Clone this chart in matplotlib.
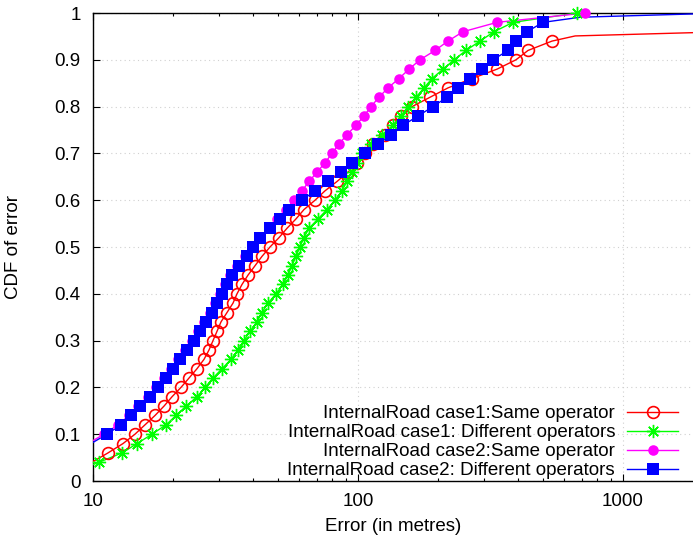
import matplotlib
matplotlib.use("Agg")
import matplotlib.pyplot as plt
from matplotlib.lines import Line2D
from matplotlib.ticker import LogLocator, FixedLocator, NullFormatter

# ---------------- data ----------------
red_x = [9.9, 11.39, 12.98, 14.40, 15.71, 17.14, 18.53, 19.87, 21.48, 23.03, 24.69, 26.24,
         27.40, 28.37, 29.38, 30.41, 32.04, 33.75, 34.95, 36.50, 38.46, 40.87, 43.42, 46.55,
         50.34, 53.96, 58.34, 62.54, 68.84, 75.07, 83.33, 91.68, 99.1, 106.3, 113.9, 126.5,
         135.5, 145.3, 159.9, 187.0, 218.6, 269.3, 334.6, 394.6, 438.1, 539.7, 660, 1840]
red_y = [0.04, 0.06, 0.08, 0.10, 0.12, 0.14, 0.16, 0.18, 0.20, 0.22, 0.24, 0.26,
         0.28, 0.30, 0.32, 0.34, 0.36, 0.38, 0.40, 0.42, 0.44, 0.46, 0.48, 0.50,
         0.52, 0.54, 0.56, 0.58, 0.60, 0.62, 0.64, 0.66, 0.68, 0.70, 0.72, 0.74,
         0.76, 0.78, 0.80, 0.82, 0.84, 0.86, 0.88, 0.90, 0.92, 0.94, 0.951, 0.958]

green_x = [8.55, 10.53, 12.87, 14.66, 16.70, 18.86, 20.57, 22.44, 24.69, 26.47, 28.37, 30.68,
           33.18, 35.26, 37.14, 39.13, 41.58, 43.42, 45.75, 49.05, 52.12, 54.43, 56.36, 58.34,
           60.40, 62.54, 65.33, 70.66, 76.38, 81.89, 87.0, 90.88, 94.93, 99.1, 103.5, 111.9,
           123.2, 135.5, 145.3, 154.4, 165.5, 177.5, 190.2, 209.4, 230.3, 255.6, 288.7, 326.1,
           384.6, 670.7]
green_y = [0.02, 0.04, 0.06, 0.08, 0.10, 0.12, 0.14, 0.16, 0.18, 0.20, 0.22, 0.24,
           0.26, 0.28, 0.30, 0.32, 0.34, 0.36, 0.38, 0.40, 0.42, 0.44, 0.46, 0.48,
           0.50, 0.52, 0.54, 0.56, 0.58, 0.60, 0.62, 0.64, 0.66, 0.68, 0.70, 0.72,
           0.74, 0.76, 0.78, 0.80, 0.82, 0.84, 0.86, 0.88, 0.90, 0.92, 0.94, 0.96,
           0.98, 1.00]

mag_x = [9.57, 11.00, 12.43, 13.67, 14.79, 16.13, 17.29, 18.53, 19.70, 20.93, 22.25, 23.63,
         24.90, 26.24, 27.64, 28.87, 30.15, 31.48, 32.89, 34.95, 37.47, 39.81, 42.68, 46.15,
         49.48, 53.49, 57.34, 61.46, 65.33, 70.05, 75.07, 79.78, 84.78, 90.88, 98.3, 105.3,
         111.9, 120.0, 129.8, 142.8, 155.8, 171.4, 195.3, 218.6, 249.0, 334.6, 719.0]
mag_y = [0.08, 0.10, 0.12, 0.14, 0.16, 0.18, 0.20, 0.22, 0.24, 0.26, 0.28, 0.30,
         0.32, 0.34, 0.36, 0.38, 0.40, 0.42, 0.44, 0.46, 0.48, 0.50, 0.52, 0.54,
         0.56, 0.58, 0.60, 0.62, 0.64, 0.66, 0.68, 0.70, 0.72, 0.74, 0.76, 0.78,
         0.80, 0.82, 0.84, 0.86, 0.88, 0.90, 0.92, 0.94, 0.96, 0.98, 1.00]

blue_x = [9.83, 11.29, 12.76, 13.91, 15.04, 16.41, 17.59, 18.86, 20.04, 21.30, 22.63, 24.05,
          25.34, 26.70, 28.13, 29.38, 30.68, 32.04, 33.46, 35.56, 38.13, 40.17, 42.68, 46.55,
          50.78, 54.90, 61.46, 68.84, 77.04, 86.26, 94.93, 106.3, 119.0, 133.2, 147.8, 168.4,
          191.9, 216.7, 238.4, 264.6, 293.8, 323.2, 368.1, 394.6, 434.2, 499.0, 690, 1840]
blue_y = [0.08, 0.10, 0.12, 0.14, 0.16, 0.18, 0.20, 0.22, 0.24, 0.26, 0.28, 0.30,
          0.32, 0.34, 0.36, 0.38, 0.40, 0.42, 0.44, 0.46, 0.48, 0.50, 0.52, 0.54,
          0.56, 0.58, 0.60, 0.62, 0.64, 0.66, 0.68, 0.70, 0.72, 0.74, 0.76, 0.78,
          0.80, 0.82, 0.84, 0.86, 0.88, 0.90, 0.92, 0.94, 0.96, 0.98, 0.991, 0.998]

labels = ["InternalRoad case1:Same operator",
          "InternalRoad case1: Different operators",
          "InternalRoad case2:Same operator",
          "InternalRoad case2: Different operators"]

y_ticks = [0, 0.1, 0.2, 0.3, 0.4, 0.5, 0.6, 0.7, 0.8, 0.9, 1]
y_ticklabels = ["0", "0.1", "0.2", "0.3", "0.4", "0.5", "0.6", "0.7", "0.8", "0.9", "1"]
x_ticks = [10, 100, 1000]
x_ticklabels = ["10", "100", "1000"]

XMIN, XMAX = 10, 1837

# ---------------- style ----------------
plt.rcParams['font.family'] = ['Liberation Sans', 'DejaVu Sans']
FS = 13.5

fig = plt.figure(figsize=(6.93, 5.45), dpi=100)
ax = fig.add_axes([93 / 693, 64 / 545, 600 / 693, 468 / 545])

series = [
    (red_x, red_y, '#ff0000', dict(marker='o', markerfacecolor='none', markeredgecolor='#ff0000',
                                   markersize=8.5, markeredgewidth=1.2)),
    (green_x, green_y, '#00ff00', dict(marker=(8, 2, 0), markeredgecolor='#00ff00',
                                       markersize=9.5, markeredgewidth=1.0)),
    (mag_x, mag_y, '#ff00ff', dict(marker='o', markerfacecolor='#ff00ff', markeredgecolor='#ff00ff',
                                   markersize=7.6, markeredgewidth=0)),
    (blue_x, blue_y, '#0000ff', dict(marker='s', markerfacecolor='#0000ff', markeredgecolor='#0000ff',
                                     markersize=8.0, markeredgewidth=0)),
]
# number of leading points drawn with markers (the rest form the line tail only)
marker_counts = [46, 50, 47, 46]

handles = []
for (xs, ys, col, mk), n in zip(series, marker_counts):
    ax.plot(xs, ys, color=col, lw=1.0, zorder=3)
    mx = [x for x, y in zip(xs[:n], ys[:n]) if x >= XMIN]
    my = [y for x, y in zip(xs[:n], ys[:n]) if x >= XMIN]
    ax.plot(mx, my, linestyle='none', clip_on=False, zorder=4, **mk)
    handles.append(Line2D([], [], color=col, lw=1.0, **mk))

ax.set_xscale('log')
ax.set_xlim(XMIN, XMAX)
ax.set_ylim(0, 1)

ax.xaxis.set_major_locator(FixedLocator(x_ticks))
ax.set_xticklabels(x_ticklabels)
ax.xaxis.set_minor_locator(LogLocator(base=10, subs=range(2, 10)))
ax.xaxis.set_minor_formatter(NullFormatter())
ax.set_yticks(y_ticks)
ax.set_yticklabels(y_ticklabels)

ax.tick_params(which='both', direction='in', top=True, right=False, labelsize=FS,
               width=0.8, colors='black')
ax.tick_params(which='major', length=5)
ax.tick_params(which='minor', length=2.5)
ax.tick_params(axis='x', pad=9)
ax.tick_params(axis='y', pad=9)

ax.grid(True, which='major', color='#d0d0d0', linestyle=(0, (1, 3)), linewidth=0.8)
for s in ['left', 'bottom', 'top']:
    ax.spines[s].set_linewidth(1.0)
ax.spines['right'].set_visible(False)

ax.set_xlabel("Error (in metres)", fontsize=FS)
ax.set_ylabel("CDF of error", fontsize=FS)
ax.xaxis.set_label_coords(0.5, -0.079)
ax.yaxis.set_label_coords(-0.118, 0.5)

leg = ax.legend(handles, labels, loc='lower right', bbox_to_anchor=(0.975, 0.004),
                frameon=False, fontsize=FS, markerfirst=False, handlelength=2.72,
                handletextpad=0.64, labelspacing=0.1, borderpad=0.0, borderaxespad=0.0)

fig.savefig("out.png", dpi=100)
